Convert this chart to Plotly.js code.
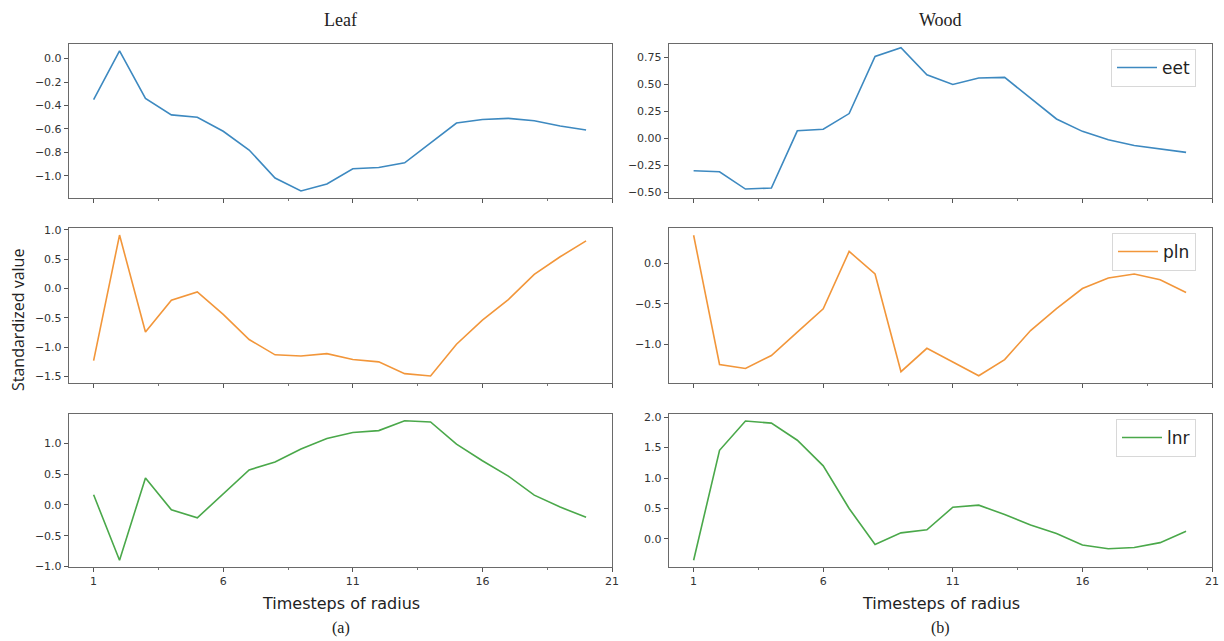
<!DOCTYPE html>
<html>
<head>
<meta charset="utf-8">
<script src="https://cdn.plot.ly/plotly-3.0.1.min.js"></script>
<style>html,body{margin:0;padding:0;background:#fff}#chart{width:1224px;height:641px}</style>
</head>
<body>
<div id="chart"></div>
<script>
const steps = [1,2,3,4,5,6,7,8,9,10,11,12,13,14,15,16,17,18,19,20];
const leafEet = [-0.35,0.066,-0.34,-0.48,-0.50,-0.62,-0.78,-1.02,-1.13,-1.07,-0.94,-0.93,-0.89,-0.72,-0.55,-0.52,-0.51,-0.53,-0.575,-0.61];
const woodEet = [-0.30,-0.31,-0.47,-0.46,0.07,0.085,0.23,0.76,0.84,0.59,0.50,0.56,0.565,0.375,0.18,0.065,-0.013,-0.066,-0.10,-0.13];
const leafPln = [-1.23,0.91,-0.74,-0.20,-0.06,-0.44,-0.87,-1.13,-1.15,-1.11,-1.21,-1.25,-1.45,-1.49,-0.95,-0.54,-0.19,0.24,0.54,0.81];
const woodPln = [0.35,-1.25,-1.30,-1.14,-0.85,-0.56,0.15,-0.13,-1.34,-1.05,-1.22,-1.39,-1.19,-0.83,-0.56,-0.31,-0.18,-0.13,-0.20,-0.36];
const leafLnr = [0.165,-0.90,0.44,-0.08,-0.21,0.18,0.57,0.70,0.91,1.08,1.18,1.21,1.37,1.35,0.99,0.72,0.47,0.16,-0.035,-0.20];
const woodLnr = [-0.35,1.455,1.935,1.90,1.62,1.20,0.50,-0.09,0.10,0.15,0.52,0.555,0.40,0.23,0.09,-0.10,-0.16,-0.14,-0.06,0.125];
const seriesNames = ['eet','pln','lnr'];
const colTitles = ['Leaf','Wood'];
const panelLabels = ['(a)','(b)'];
const xTitle = 'Timesteps of radius';
const yTitle = 'Standardized value';

const colors = ['#3d89c0','#f2963a','#4aa84a'];
const W = 1224, H = 641;
const colX = [[69,612],[669,1212]];
const rowY = [[44,198],[228,383],[414,567]];
const yRanges = [[[-1.19,0.125],[-0.553,0.875]],[[-1.61,1.03],[-1.48,0.44]],[[-1.01,1.48],[-0.46,2.05]]];
const yDticks = [[0.2,0.25],[0.5,0.5],[0.5,0.5]];
const yFormats = [['.1f','.2f'],['.1f','.1f'],['.1f','.1f']];
const data2d = [[leafEet,woodEet],[leafPln,woodPln],[leafLnr,woodLnr]];

const traces = [];
const layout = {
  width: W, height: H,
  margin: {l:0,r:0,t:0,b:0},
  paper_bgcolor: '#fff', plot_bgcolor: '#fff',
  font: {family: 'DejaVu Sans', color: '#333', size: 11},
  annotations: [],
  showlegend: true
};
let idx = 1;
for (let r = 0; r < 3; r++) {
  for (let c = 0; c < 2; c++) {
    const xa = 'xaxis' + (idx === 1 ? '' : idx);
    const ya = 'yaxis' + (idx === 1 ? '' : idx);
    const xr = 'x' + (idx === 1 ? '' : idx);
    const yr = 'y' + (idx === 1 ? '' : idx);
    const t = {
      x: steps, y: data2d[r][c], type: 'scatter', mode: 'lines',
      line: {color: colors[r], width: 1.6},
      xaxis: xr, yaxis: yr, name: seriesNames[r],
      showlegend: c === 1, hoverinfo: 'skip'
    };
    if (c === 1) t.legend = r === 0 ? 'legend' : 'legend' + (r + 1);
    traces.push(t);
    const common = {
      showline: true, mirror: true, linecolor: '#6a6a6a', linewidth: 1.2,
      ticks: 'outside', ticklen: 4, tickcolor: '#555', tickwidth: 1,
      showgrid: false, zeroline: false, fixedrange: true,
      tickfont: {family: 'DejaVu Sans', size: 11, color: '#333'}
    };
    layout[xa] = Object.assign({}, common, {
      domain: [colX[c][0]/W, colX[c][1]/W], anchor: yr,
      range: [0.05, 21], tick0: 1, dtick: 5, tickmode: 'linear',
      showticklabels: r === 2,
      minor: {dtick: 2.5, tick0: 1, ticklen: 2, ticks: 'outside', tickcolor: '#777'}
    });
    layout[ya] = Object.assign({}, common, {
      domain: [(H - rowY[r][1])/H, (H - rowY[r][0])/H], anchor: xr,
      range: yRanges[r][c], dtick: yDticks[r][c], tick0: 0, tickmode: 'linear',
      tickformat: yFormats[r][c]
    });
    idx++;
  }
}
const legTop = [49, 233, 419];
['legend','legend2','legend3'].forEach((k, i) => {
  layout[k] = {
    x: 1196/W, y: (H - legTop[i])/H, xanchor: 'right', yanchor: 'top',
    bgcolor: 'rgba(255,255,255,0.9)', bordercolor: '#d8d8d8', borderwidth: 1,
    itemwidth: 40,
    font: {family: 'DejaVu Sans', size: 17, color: '#222'}
  };
});
const cx = [(colX[0][0]+colX[0][1])/2, (colX[1][0]+colX[1][1])/2];
const ann = (text, x, y, font, extra) => Object.assign({text, x: x/W, y: (H-y)/H, xref:'paper', yref:'paper',
  showarrow:false, xanchor:'center', yanchor:'middle', font}, extra || {});
for (let c = 0; c < 2; c++) {
  layout.annotations.push(ann(colTitles[c], cx[c], 20, {family:'Liberation Serif', size:18, color:'#222'}));
  layout.annotations.push(ann(xTitle, cx[c], 603, {family:'DejaVu Sans', size:16, color:'#222'}));
  layout.annotations.push(ann(panelLabels[c], cx[c], 628, {family:'Liberation Serif', size:16, color:'#222'}));
}
layout.annotations.push(ann(yTitle, 18, 320, {family:'Open Sans', size:16, color:'#222'}, {textangle:-90}));

Plotly.newPlot('chart', traces, layout, {displayModeBar:false, staticPlot:true});
</script>
</body>
</html>
